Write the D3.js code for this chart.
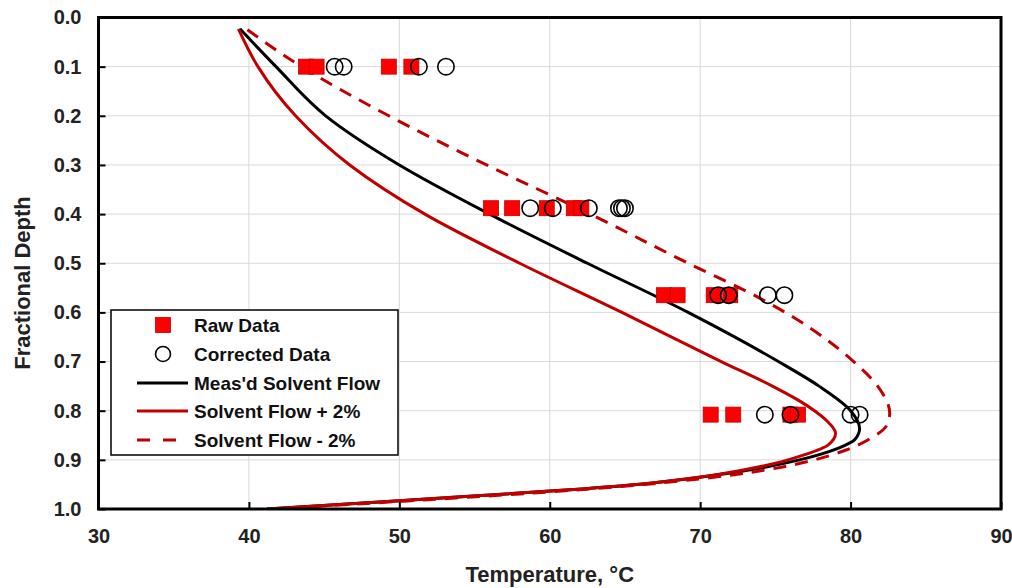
<!DOCTYPE html>
<html>
<head>
<meta charset="utf-8">
<script src="https://cdn.jsdelivr.net/npm/d3@7"></script>
<style>
  html, body { margin: 0; padding: 0; background: #fff; }
  svg { display: block; font-family: "Liberation Sans", Arial, sans-serif; }
</style>
</head>
<body>
<svg id="chart" width="1012" height="588"></svg>
<script>
// ---------- data ----------
const xTicks = [30, 40, 50, 60, 70, 80, 90];
const yTicks = [0, 0.1, 0.2, 0.3, 0.4, 0.5, 0.6, 0.7, 0.8, 0.9, 1.0];

// Raw data (temperature, fractional depth)
const rawTemp  = [43.8, 44.5, 49.3, 50.8,
                  56.1, 57.5, 59.8, 61.6, 62.1,
                  67.6, 68.5, 70.9, 72.0,
                  70.7, 72.2, 76.0, 76.5];
const rawDepth = [0.1, 0.1, 0.1, 0.1,
                  0.388, 0.388, 0.388, 0.388, 0.388,
                  0.565, 0.565, 0.565, 0.565,
                  0.808, 0.808, 0.808, 0.808];

// Corrected data
const corrTemp  = [45.7, 46.3, 51.3, 53.1,
                   58.7, 60.2, 62.6, 64.6, 64.8, 65.0,
                   71.2, 71.9, 74.5, 75.6,
                   74.3, 76.0, 80.0, 80.6];
const corrDepth = [0.1, 0.1, 0.1, 0.1,
                   0.388, 0.388, 0.388, 0.388, 0.388, 0.388,
                   0.565, 0.565, 0.565, 0.565,
                   0.808, 0.808, 0.808, 0.808];

// Model curves: fractional depth vs temperature
const measDepth = [0.023, 0.1, 0.2, 0.3, 0.4, 0.5, 0.6, 0.7, 0.75, 0.8, 0.836, 0.858, 0.876, 0.9, 0.915, 0.935, 0.95, 0.962, 0.983, 1.0];
const measTemp  = [39.4, 41.8, 45.1, 50.0, 56.0, 62.5, 69.2, 75.2, 77.9, 80.0, 80.6, 80.3, 79.2, 76.6, 74.3, 70.1, 65.8, 60.8, 50.0, 41.2];

const plusDepth = [0.023, 0.1, 0.2, 0.3, 0.4, 0.5, 0.6, 0.7, 0.75, 0.78, 0.8, 0.82, 0.846, 0.87, 0.89, 0.907, 0.922, 0.935, 0.95, 0.962, 0.983, 1.0];
const plusTemp  = [39.3, 40.6, 43.1, 46.7, 51.7, 58.0, 64.8, 71.4, 74.8, 76.6, 77.6, 78.4, 79.0, 78.5, 76.9, 75.0, 72.6, 70.0, 65.8, 60.8, 50.0, 41.2];

const minusDepth = [0.025, 0.1, 0.2, 0.3, 0.4, 0.5, 0.57, 0.61, 0.7, 0.75, 0.805, 0.83, 0.855, 0.88, 0.9, 0.915, 0.935, 0.95, 0.963, 0.984, 1.0];
const minusTemp  = [39.9, 43.5, 49.3, 55.8, 62.7, 69.2, 73.9, 76.2, 80.2, 81.8, 82.6, 82.4, 81.4, 79.7, 77.6, 75.4, 71.0, 66.3, 61.0, 50.3, 41.5];

const legendLabels = ["Raw Data", "Corrected Data", "Meas'd Solvent Flow", "Solvent Flow + 2%", "Solvent Flow - 2%"];

// ---------- layout ----------
const L = 98.5, R = 1001, T = 17.5, B = 509;
const svg = d3.select("#chart");
const x = d3.scaleLinear().domain([30, 90]).range([L, R]);
const y = d3.scaleLinear().domain([0, 1]).range([T, B]);

// gridlines
svg.append("g").selectAll("line").data(xTicks.slice(1, -1)).join("line")
  .attr("x1", d => x(d)).attr("x2", d => x(d)).attr("y1", T).attr("y2", B)
  .attr("stroke", "#d9d9d9").attr("stroke-width", 1);
svg.append("g").selectAll("line").data(yTicks.slice(1, -1)).join("line")
  .attr("x1", L).attr("x2", R).attr("y1", d => y(d)).attr("y2", d => y(d))
  .attr("stroke", "#d9d9d9").attr("stroke-width", 1);

// axes (inner ticks)
const xAxis = d3.axisBottom(x).tickValues(xTicks).tickSizeInner(-7).tickSizeOuter(0).tickPadding(20).tickFormat(d3.format("d"));
const gx = svg.append("g").attr("transform", `translate(0,${B})`).call(xAxis);
const yAxis = d3.axisLeft(y).tickValues(yTicks).tickSizeInner(-7).tickSizeOuter(0).tickPadding(17).tickFormat(d3.format(".1f"));
const gy = svg.append("g").attr("transform", `translate(${L},0)`).call(yAxis);
[gx, gy].forEach(g => {
  g.select(".domain").remove();
  g.selectAll(".tick line").attr("stroke", "#000").attr("stroke-width", 2);
  g.selectAll(".tick text").attr("fill", "#222").attr("font-size", 20).attr("font-weight", "bold")
    .attr("font-family", "'Liberation Sans', Arial, sans-serif");
});

// curves
const line = d3.line().curve(d3.curveMonotoneY);
function curve(temps, depths) { return line(temps.map((t, i) => [x(t), y(depths[i])])); }

svg.append("clipPath").attr("id", "clip").append("rect")
  .attr("x", L).attr("y", T).attr("width", R - L).attr("height", B - T);
const plot = svg.append("g").attr("clip-path", "url(#clip)");

plot.append("path").attr("d", curve(measTemp, measDepth))
  .attr("fill", "none").attr("stroke", "#000").attr("stroke-width", 3);
plot.append("path").attr("d", curve(minusTemp, minusDepth))
  .attr("fill", "none").attr("stroke", "#c00000").attr("stroke-width", 3)
  .attr("stroke-dasharray", "13,9");
plot.append("path").attr("d", curve(plusTemp, plusDepth))
  .attr("fill", "none").attr("stroke", "#c00000").attr("stroke-width", 3);

// markers
const sq = 15;
svg.append("g").selectAll("rect").data(rawTemp).join("rect")
  .attr("x", d => x(d) - sq / 2).attr("y", (d, i) => y(rawDepth[i]) - sq / 2)
  .attr("width", sq).attr("height", sq)
  .attr("fill", "#ff0000").attr("stroke", "#c00000").attr("stroke-width", 0.8);
svg.append("g").selectAll("circle").data(corrTemp).join("circle")
  .attr("cx", d => x(d)).attr("cy", (d, i) => y(corrDepth[i])).attr("r", 8.2)
  .attr("fill", "none").attr("stroke", "#000").attr("stroke-width", 1.6);

// frame
svg.append("rect").attr("x", L).attr("y", T).attr("width", R - L).attr("height", B - T)
  .attr("fill", "none").attr("stroke", "#000").attr("stroke-width", 3);

// axis titles
svg.append("text").attr("x", (L + R) / 2).attr("y", 582).attr("text-anchor", "middle")
  .attr("font-size", 22).attr("font-weight", "bold").attr("fill", "#222").text("Temperature, °C");
svg.append("text").attr("transform", "translate(30,283) rotate(-90)").attr("text-anchor", "middle")
  .attr("font-size", 22).attr("font-weight", "bold").attr("fill", "#222").text("Fractional Depth");

// legend
const lg = svg.append("g");
lg.append("rect").attr("x", 111).attr("y", 310).attr("width", 287).attr("height", 145)
  .attr("fill", "#fff").attr("stroke", "#000").attr("stroke-width", 1.5);
const rowY = [325, 354, 383, 411, 440];
lg.append("rect").attr("x", 163 - 7.5).attr("y", rowY[0] - 7.5).attr("width", 15).attr("height", 15)
  .attr("fill", "#ff0000").attr("stroke", "#c00000").attr("stroke-width", 0.8);
lg.append("circle").attr("cx", 163).attr("cy", rowY[1]).attr("r", 7.5)
  .attr("fill", "none").attr("stroke", "#000").attr("stroke-width", 1.6);
lg.append("line").attr("x1", 137).attr("x2", 188).attr("y1", rowY[2]).attr("y2", rowY[2])
  .attr("stroke", "#000").attr("stroke-width", 3);
lg.append("line").attr("x1", 137).attr("x2", 188).attr("y1", rowY[3]).attr("y2", rowY[3])
  .attr("stroke", "#c00000").attr("stroke-width", 3);
lg.append("line").attr("x1", 137).attr("x2", 180).attr("y1", rowY[4]).attr("y2", rowY[4])
  .attr("stroke", "#c00000").attr("stroke-width", 3).attr("stroke-dasharray", "13,13");
lg.selectAll("text").data(legendLabels).join("text")
  .attr("x", 194).attr("y", (d, i) => rowY[i] + 7)
  .attr("font-size", 19).attr("font-weight", "bold").attr("fill", "#111").text(d => d);
</script>
</body>
</html>
